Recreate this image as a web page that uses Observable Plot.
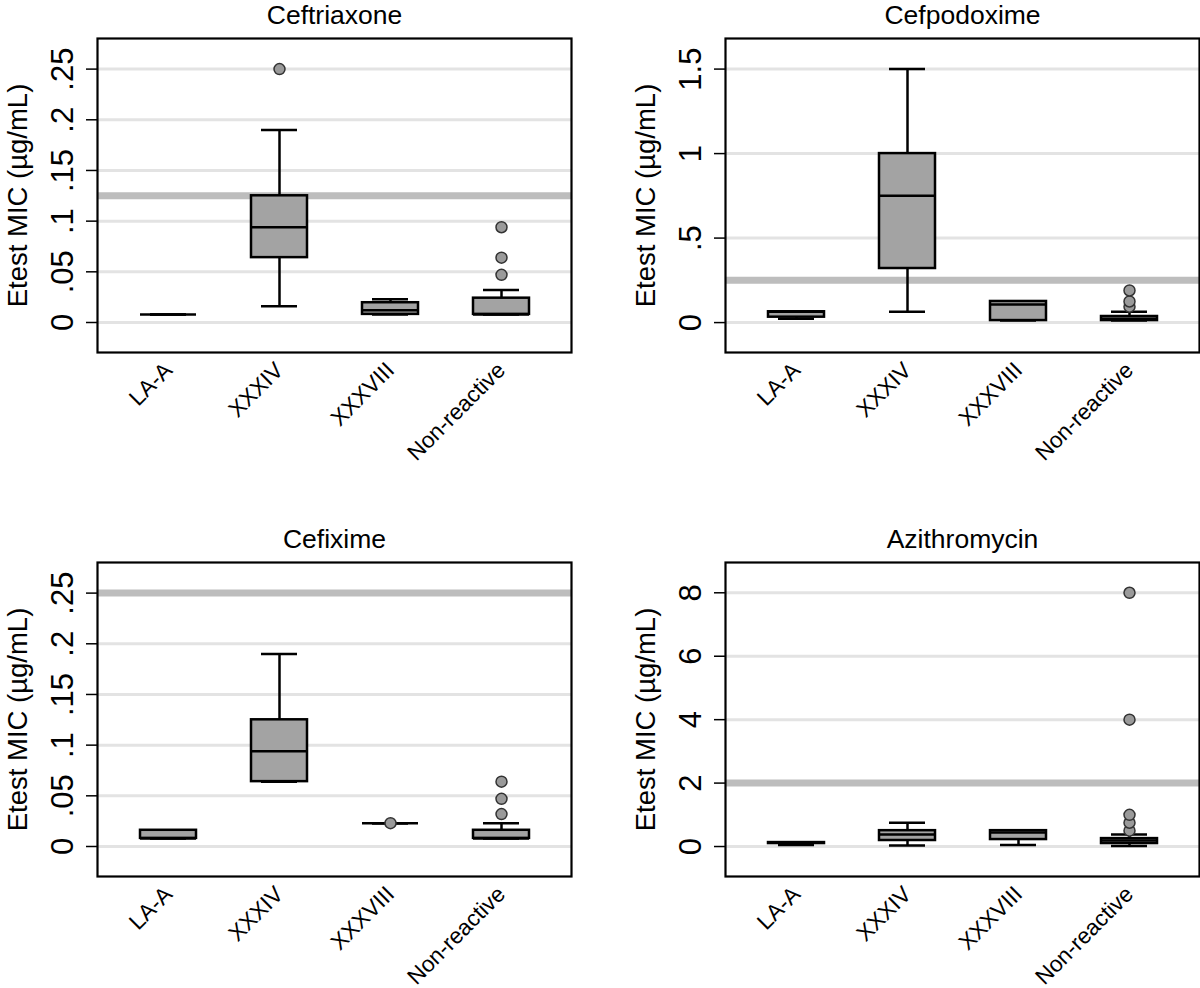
<!DOCTYPE html>
<html>
<head>
<meta charset="utf-8">
<script src="https://cdn.jsdelivr.net/npm/d3@7"></script>
<script src="https://cdn.jsdelivr.net/npm/@observablehq/plot@0.6"></script>
<style>
  html, body { margin: 0; padding: 0; background: white; width: 1200px; height: 988px; overflow: hidden; }
  #wrap { position: relative; width: 1200px; height: 988px; }
  .panel { position: absolute; }
  .panel svg { overflow: visible; }
</style>
</head>
<body>
<div id="wrap"></div>
<script>
// Categories (serotypes / groups)
const groups = ["LA-A", "XXXIV", "XXXVIII", "Non-reactive"];
// Drug panels
const drugs = ["Ceftriaxone", "Cefpodoxime", "Cefixime", "Azithromycin"];
// Breakpoint reference lines per drug
const breakpoints = [0.125, 0.25, 0.25, 2];
const yLabel = "Etest MIC (µg/mL)";

// Box statistics per group: [lower whisker, q1, median, q3, upper whisker]
const ceftriaxoneStats = [
  [0.008, 0.008, 0.008, 0.008, 0.008],
  [0.016, 0.064, 0.094, 0.125, 0.19],
  [0.008, 0.008, 0.012, 0.0195, 0.023],
  [0.008, 0.008, 0.008, 0.024, 0.032]
];
const cefpodoximeStats = [
  [0.023, 0.032, 0.064, 0.064, 0.064],
  [0.064, 0.32, 0.75, 1.0, 1.5],
  [0.012, 0.012, 0.107, 0.125, 0.125],
  [0.012, 0.012, 0.023, 0.036, 0.064]
];
const cefiximeStats = [
  [0.008, 0.008, 0.008, 0.016, 0.016],
  [0.064, 0.064, 0.094, 0.125, 0.19],
  [0.023, 0.023, 0.023, 0.023, 0.023],
  [0.008, 0.008, 0.008, 0.016, 0.023]
];
const azithromycinStats = [
  [0.047, 0.094, 0.125, 0.125, 0.125],
  [0.032, 0.19, 0.38, 0.5, 0.75],
  [0.047, 0.22, 0.44, 0.5, 0.5],
  [0.016, 0.094, 0.19, 0.25, 0.38]
];

// Outliers: [group, value]
const ceftriaxoneOutliers = [["XXXIV", 0.25], ["Non-reactive", 0.047], ["Non-reactive", 0.064], ["Non-reactive", 0.094]];
const cefpodoximeOutliers = [["Non-reactive", 0.094], ["Non-reactive", 0.125], ["Non-reactive", 0.19]];
const cefiximeOutliers = [["XXXVIII", 0.023], ["Non-reactive", 0.032], ["Non-reactive", 0.047], ["Non-reactive", 0.064]];
const azithromycinOutliers = [["Non-reactive", 0.5], ["Non-reactive", 0.75], ["Non-reactive", 1.0], ["Non-reactive", 4], ["Non-reactive", 8]];

// Y tick values and labels
const ticksSmall = [0, 0.05, 0.1, 0.15, 0.2, 0.25];
const tickLabelsSmall = ["0", ".05", ".1", ".15", ".2", ".25"];
const ticksCefpodoxime = [0, 0.5, 1, 1.5];
const tickLabelsCefpodoxime = ["0", ".5", "1", "1.5"];
const ticksAzithromycin = [0, 2, 4, 6, 8];
const tickLabelsAzithromycin = ["0", "2", "4", "6", "8"];

// Y domains (axis range incl. padding)
const yDomains = [[-0.0296, 0.2802], [-0.177, 1.681], [-0.0296, 0.2802], [-0.945, 8.955]];

const statsList = [ceftriaxoneStats, cefpodoximeStats, cefiximeStats, azithromycinStats];
const outlierList = [ceftriaxoneOutliers, cefpodoximeOutliers, cefiximeOutliers, azithromycinOutliers];
const tickList = [ticksSmall, ticksCefpodoxime, ticksSmall, ticksAzithromycin];
const tickLabelList = [tickLabelsSmall, tickLabelsCefpodoxime, tickLabelsSmall, tickLabelsAzithromycin];

const FONT = "'Liberation Sans', Arial, Helvetica, sans-serif";
const BOX_FILL = "#a3a3a3";
const LW = 2.5;

function panel(i) {
  const rows = groups.map((g, j) => {
    const s = statsList[i][j];
    return {group: g, lo: s[0], q1: s[1], med: s[2], q3: s[3], hi: s[4]};
  });
  const outs = outlierList[i].map(([group, value]) => ({group, value}));
  const ticks = tickList[i];
  const labels = tickLabelList[i];
  const fmt = (d) => labels[ticks.indexOf(d)];
  const left = i % 2 === 0;
  return Plot.plot({
    width: 600,
    height: 494,
    marginLeft: left ? 97 : 125,
    marginRight: left ? 29 : 1,
    marginTop: 38,
    marginBottom: 142,
    style: {fontFamily: FONT, background: "transparent", color: "black", overflow: "visible"},
    x: {type: "band", domain: groups, paddingInner: 0.5, paddingOuter: 0.377, label: null},
    y: {domain: yDomains[i], label: null},
    marks: [
      Plot.gridY(ticks, {stroke: "#e3e3e3", strokeOpacity: 1, strokeWidth: 3}),
      Plot.ruleY([breakpoints[i]], {stroke: "#bdbdbd", strokeWidth: 7}),
      Plot.ruleX(rows, {x: "group", y1: "q3", y2: "hi", stroke: "black", strokeWidth: LW}),
      Plot.ruleX(rows, {x: "group", y1: "lo", y2: "q1", stroke: "black", strokeWidth: LW}),
      Plot.tickY(rows, {x: "group", y: "hi", stroke: "black", strokeWidth: LW, insetLeft: 10, insetRight: 10}),
      Plot.tickY(rows, {x: "group", y: "lo", stroke: "black", strokeWidth: LW, insetLeft: 10, insetRight: 10}),
      Plot.barY(rows, {x: "group", y1: "q1", y2: "q3", fill: BOX_FILL, stroke: "black", strokeWidth: LW}),
      Plot.tickY(rows, {x: "group", y: "med", stroke: "black", strokeWidth: LW}),
      Plot.dot(outs, {x: "group", y: "value", r: 5.5, fill: "#9a9a9a", stroke: "#333", strokeWidth: 1.5}),
      Plot.frame({stroke: "black", strokeWidth: 2.2}),
      Plot.axisY({ticks, tickFormat: fmt, tickSize: 11, tickRotate: -90, tickPadding: 14, fontSize: 31, label: null, stroke: "black", strokeWidth: 1.5}),
      Plot.axisX({tickSize: 0, tickRotate: -45, tickPadding: 14, fontSize: 22.5, label: null}),
      Plot.text([yLabel], {frameAnchor: "left", dx: -79, rotate: -90, fontSize: 27.5, lineAnchor: "middle", textAnchor: "middle"}),
      Plot.text([drugs[i]], {frameAnchor: "top", dy: -14.5, fontSize: 26.5, lineAnchor: "bottom"})
    ]
  });
}

const wrap = document.getElementById("wrap");
for (let i = 0; i < 4; i++) {
  const div = document.createElement("div");
  div.className = "panel";
  div.style.left = (i % 2) * 600 + "px";
  div.style.top = (i < 2 ? 0 : 524) + "px";
  div.appendChild(panel(i));
  wrap.appendChild(div);
}
</script>
</body>
</html>
